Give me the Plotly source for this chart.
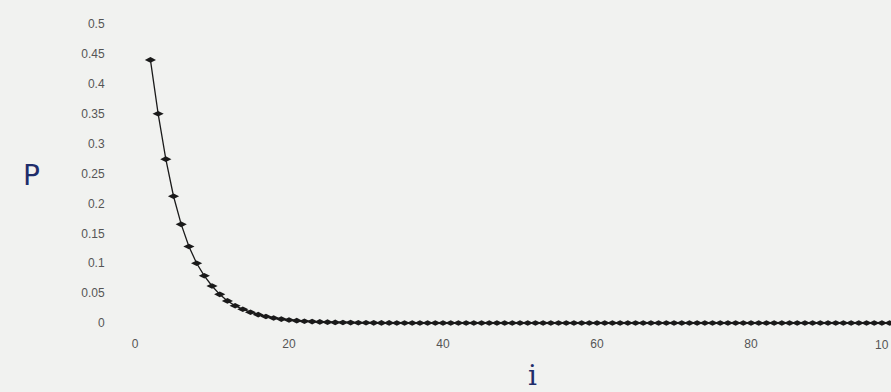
import plotly.graph_objects as go

# Data
i_vals = list(range(2, 101))
p_vals = [0.440, 0.350, 0.274, 0.212, 0.165, 0.128, 0.100, 0.079, 0.062, 0.048,
          0.037, 0.029, 0.023, 0.018, 0.014, 0.011, 0.0085, 0.0066, 0.0052, 0.0040,
          0.0031, 0.0024, 0.0019, 0.0015, 0.0011, 0.0009, 0.0007, 0.0005, 0.0004, 0.0003,
          0.0002, 0.0002, 0.0001, 0.0001, 0.0001, 0.0, 0.0, 0.0, 0.0, 0.0,
          0.0, 0.0, 0.0, 0.0, 0.0, 0.0, 0.0, 0.0, 0.0, 0.0,
          0.0, 0.0, 0.0, 0.0, 0.0, 0.0, 0.0, 0.0, 0.0, 0.0,
          0.0, 0.0, 0.0, 0.0, 0.0, 0.0, 0.0, 0.0, 0.0, 0.0,
          0.0, 0.0, 0.0, 0.0, 0.0, 0.0, 0.0, 0.0, 0.0, 0.0,
          0.0, 0.0, 0.0, 0.0, 0.0, 0.0, 0.0, 0.0, 0.0, 0.0,
          0.0, 0.0, 0.0, 0.0, 0.0, 0.0, 0.0, 0.0, 0.0]
y_ticks = [0, 0.05, 0.1, 0.15, 0.2, 0.25, 0.3, 0.35, 0.4, 0.45, 0.5]
y_tick_text = ["0", "0.05", "0.1", "0.15", "0.2", "0.25", "0.3", "0.35", "0.4", "0.45", "0.5"]
x_ticks = [0, 20, 40, 60, 80]
x_tick_text = ["0", "20", "40", "60", "80"]

bg = "#f1f2f0"
tick_font = dict(family="Liberation Sans, Arial, sans-serif", size=12, color="#555555")

W, H = 891, 392
L, R, T, B = 112, 0, 10, 57
pw, ph = W - L - R, H - T - B

fig = go.Figure()
fig.add_trace(go.Scatter(
    x=i_vals, y=p_vals, mode="lines+markers",
    line=dict(color="#1a1a1a", width=1.3),
    marker=dict(symbol="diamond-wide", size=8, color="#1a1a1a"),
    cliponaxis=True, showlegend=False,
))

fig.update_layout(
    width=W, height=H,
    margin=dict(l=L, r=R, t=T, b=B),
    paper_bgcolor=bg, plot_bgcolor=bg,
    xaxis=dict(range=[-2.99, 98.18], tickvals=x_ticks, ticktext=x_tick_text,
               showgrid=False, zeroline=False, showline=False,
               ticks="", tickfont=tick_font),
    yaxis=dict(range=[-0.020, 0.5234], tickvals=y_ticks, ticktext=y_tick_text,
               showgrid=False, zeroline=False, showline=False,
               ticks="outside", ticklen=4, tickcolor=bg, tickfont=tick_font),
    annotations=[
        dict(text="10", xref="paper", yref="paper", x=1, y=(H - B - 345) / ph,
             xanchor="right", yanchor="middle", showarrow=False, font=tick_font),
        dict(text="P", xref="paper", yref="paper", x=(31 - L) / pw, y=(H - B - 175) / ph,
             xanchor="center", yanchor="middle", showarrow=False,
             font=dict(family="DejaVu Sans", size=28, color="#1f2d6b")),
        dict(text="i", xref="paper", yref="paper", x=(532 - L) / pw, y=(H - B - 375) / ph,
             xanchor="center", yanchor="middle", showarrow=False,
             font=dict(family="DejaVu Serif", size=28, color="#1f2d6b")),
    ],
)

fig.write_html("out.html", config={"displayModeBar": False},
               post_script="document.body.style.margin='0';document.body.style.background='%s';" % bg)
